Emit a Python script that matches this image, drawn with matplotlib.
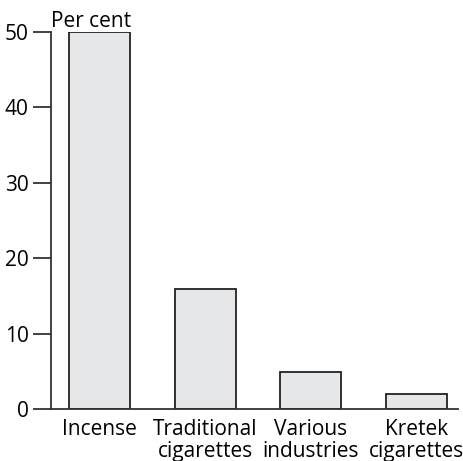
import matplotlib
matplotlib.use("Agg")
from matplotlib import pyplot as plt

categories = ["Incense", "Traditional\ncigarettes", "Various\nindustries", "Kretek\ncigarettes"]
values = [50, 16, 5, 2]
yticks = [0, 10, 20, 30, 40, 50]

plt.rcParams['font.family'] = ['Open Sans', 'DejaVu Sans']

fig = plt.figure(figsize=(4.64, 4.61), dpi=100)
ax = fig.add_axes([0.1099, 0.1121, 0.8771, 0.8185])

x = list(range(len(categories)))
ax.bar(x, values, width=0.578, color="#e6e7e8", edgecolor="#222222", linewidth=1.3)

ax.set_xlim(-0.462, 3.396)
ax.set_ylim(0, 50)
ax.set_yticks(yticks)
ax.set_xticks(x)
ax.set_xticklabels(categories, fontsize=15, linespacing=1.05)
ax.tick_params(axis='x', length=0, pad=7)
ax.tick_params(axis='y', length=13, width=1.3, color="#333333", labelsize=15, pad=3)

for s in ["top", "right"]:
    ax.spines[s].set_visible(False)
for s in ["left", "bottom"]:
    ax.spines[s].set_linewidth(1.3)
    ax.spines[s].set_color("#333333")
ax.spines["left"].set_zorder(3)

ax.text(0.0, 1.0, "Per cent", transform=ax.transAxes, fontsize=15, ha="left", va="bottom")

fig.savefig("out.png", dpi=100)
